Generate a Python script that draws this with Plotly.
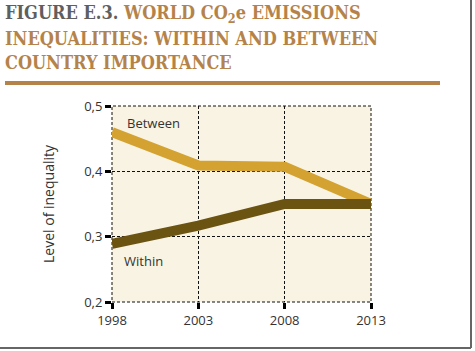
import plotly.graph_objects as go

years = [1998, 2003, 2008, 2013]
between = [0.460, 0.409, 0.407, 0.350]
within = [0.289, 0.317, 0.350, 0.350]
y_ticks = [0.2, 0.3, 0.4, 0.5]
y_tick_labels = ["0,2", "0,3", "0,4", "0,5"]

fig = go.Figure()
fig.add_trace(go.Scatter(x=years, y=between, mode="lines", name="Between",
                         line=dict(color="#d3a230", width=10), cliponaxis=False))
fig.add_trace(go.Scatter(x=years, y=within, mode="lines", name="Within",
                         line=dict(color="#6b5312", width=10), cliponaxis=False))

font_sans = "Open Sans, Noto Sans, sans-serif"
dash = "3px,2px"

fig.update_layout(
    width=475, height=351,
    margin=dict(l=112, r=104, t=106, b=49),
    paper_bgcolor="white", plot_bgcolor="#f9f3e3",
    showlegend=False,
    font=dict(family=font_sans, size=12, color="#333333"),
)
fig.update_xaxes(range=[1998, 2013], tickvals=years, ticktext=[str(y) for y in years],
                 showgrid=True, gridcolor="#111111", gridwidth=1, griddash=dash,
                 ticks="outside", ticklen=6, tickwidth=3, tickcolor="black",
                 zeroline=False, showline=False, tickfont=dict(size=13, color="#333333"))
fig.update_yaxes(range=[0.2, 0.5], tickvals=y_ticks, ticktext=y_tick_labels,
                 showgrid=True, gridcolor="#111111", gridwidth=1, griddash=dash,
                 ticks="outside", ticklen=6, tickwidth=3, tickcolor="black",
                 zeroline=False, showline=False, tickfont=dict(size=13, color="#333333"),
                 title=dict(text="Level of inequality", font=dict(size=14, color="#333333"), standoff=26))

# dashed frame around plot area
fig.add_shape(type="rect", xref="paper", yref="paper", x0=0, x1=1, y0=0, y1=1,
              line=dict(color="#111111", width=1, dash=dash), layer="below")

fig.add_annotation(x=2000.4, y=0.474, text="Between", showarrow=False,
                   font=dict(size=13, color="#333333"))
fig.add_annotation(x=1999.8, y=0.263, text="Within", showarrow=False,
                   font=dict(size=13, color="#333333"))

title_font = dict(family="DejaVu Serif Condensed, DejaVu Serif, serif", size=18, color="#b5834a")
lines = [
    "<b><span style='color:#5f5f5f'>FIGURE E.3.</span> WORLD CO<sub>2</sub>e EMISSIONS</b>",
    "<b>INEQUALITIES: WITHIN AND BETWEEN</b>",
    "<b>COUNTRY IMPORTANCE</b>",
]
for i, t in enumerate(lines):
    fig.add_annotation(xref="paper", yref="paper", x=-112/267, y=1 + (106 - 14 - 24.5*i)/196,
                       xanchor="left", yanchor="middle", text=t, showarrow=False,
                       font=title_font)

# title rule
fig.add_shape(type="line", xref="paper", yref="paper",
              x0=-107/259, x1=(440-112)/259, y0=1 + (106-83)/196, y1=1 + (106-83)/196,
              line=dict(color="#b5834a", width=4))
# frame shadow lines
fig.add_shape(type="line", xref="paper", yref="paper",
              x0=(471-112)/259, x1=(471-112)/259, y0=1 + 106/196, y1=-(348-302)/196,
              line=dict(color="#666666", width=2))
fig.add_shape(type="line", xref="paper", yref="paper",
              x0=-112/259, x1=(471-112)/259, y0=-(348-302)/196, y1=-(348-302)/196,
              line=dict(color="#666666", width=2))

fig.write_html("out.html")
